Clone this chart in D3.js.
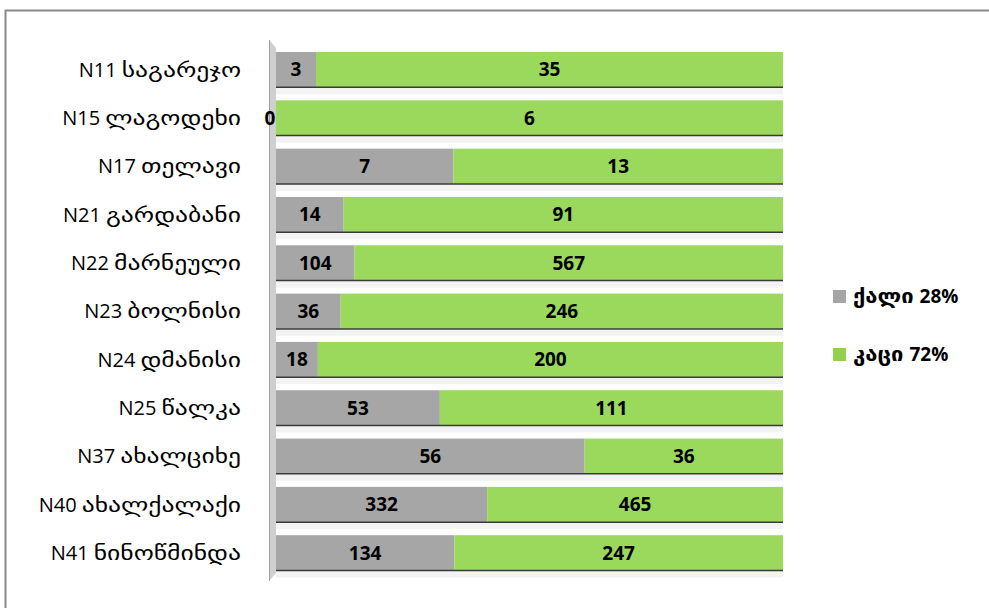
<!DOCTYPE html>
<html><head><meta charset="utf-8">
<script src="https://cdn.jsdelivr.net/npm/d3@7"></script>
<style>body{margin:0;background:#fff}svg{display:block}</style>
</head><body>
<script>
const categories = ["N11 საგარეჯო","N15 ლაგოდეხი","N17 თელავი","N21 გარდაბანი","N22 მარნეული","N23 ბოლნისი","N24 დმანისი","N25 წალკა","N37 ახალციხე","N40 ახალქალაქი","N41 ნინოწმინდა"];
const women = [3,0,7,14,104,36,18,53,56,332,134];
const men = [35,6,13,91,567,246,200,111,36,465,247];
const legendLabels = ["ქალი 28%","კაცი 72%"];
const colors = ["#a6a6a6","#9ad95c"];
const legendColors = ["#a5a5a5","#92d050"];

const W=989,H=608;
const svg=d3.select("body").append("svg").attr("width",W).attr("height",H);
svg.append("rect").attr("width",W).attr("height",H).attr("fill","#fff");
svg.append("path").attr("d",`M5.5,${H} L5.5,10.5 L${W},10.5`).attr("fill","none").attr("stroke","#8a8a8a").attr("stroke-width",2);

const x=d3.scaleLinear().domain([0,1]).range([276,783]);
const y=d3.scaleBand().domain(categories).range([45.5,577]).paddingInner(0.27).paddingOuter(0.135);

const data=categories.map((c,i)=>({c,w:women[i],m:men[i],t:women[i]+men[i]}));

const g=svg.append("g");
g.append("path").attr("d",`M269,40 L276,48 L276,${y.range()[1]-4} L269,${y.range()[1]+4} Z`).attr("fill","#cfcfcf");
g.append("line").attr("x1",269.5).attr("x2",269.5).attr("y1",40).attr("y2",y.range()[1]+4).attr("stroke","#a0a0a0");

const rows=g.selectAll("g.row").data(data).join("g").attr("class","row");
rows.append("rect").attr("x",x(0)).attr("y",d=>y(d.c)+y.bandwidth()).attr("width",x(1)-x(0)).attr("height",7).attr("fill","#f3f3f3");
rows.append("rect").attr("x",x(0)).attr("y",d=>y(d.c)).attr("height",y.bandwidth())
  .attr("width",d=>x(d.w/d.t)-x(0)).attr("fill",colors[0]);
rows.append("rect").attr("x",d=>x(d.w/d.t)).attr("y",d=>y(d.c)).attr("height",y.bandwidth())
  .attr("width",d=>x(1)-x(d.w/d.t)).attr("fill",colors[1]);
rows.append("line").attr("x1",x(0)).attr("x2",x(1)).attr("y1",d=>y(d.c)+y.bandwidth()).attr("y2",d=>y(d.c)+y.bandwidth())
  .attr("stroke","#3a3a3a").attr("stroke-width",1.5);

const lf="'Open Sans','DejaVu Sans',sans-serif";
rows.append("text").attr("x",d=>(x(0)+x(d.w/d.t))/2 - (d.w===0?6:0)).attr("y",d=>y(d.c)+y.bandwidth()/2)
  .attr("dy","0.36em").attr("text-anchor","middle").attr("font-family",lf).attr("font-weight","bold").attr("font-size",19).attr("fill","#000")
  .text(d=>d.w);
rows.append("text").attr("x",d=>(x(d.w/d.t)+x(1))/2).attr("y",d=>y(d.c)+y.bandwidth()/2)
  .attr("dy","0.36em").attr("text-anchor","middle").attr("font-family",lf).attr("font-weight","bold").attr("font-size",19).attr("fill","#000")
  .text(d=>d.m);

// Georgian glyphs in reference are wider (Sylfaen-like): widen the Georgian part
const geoStretch=1.28;
function mixedText(sel, xEnd, yc, str, size, weight){
  const idx=str.indexOf(" ");
  const latin=str.slice(0,idx), geo=str.slice(idx+1);
  const isNumFirst=/^N/.test(latin);
  const first=isNumFirst?latin:geo, second=isNumFirst?geo:latin;
  return {first,second};
}
// category axis via d3.axisLeft, then restyle labels
const axis=d3.axisLeft(y).tickSize(0).tickPadding(0);
const ax=svg.append("g").attr("transform","translate(241,0)").call(axis);
ax.select(".domain").remove();
ax.selectAll(".tick text").each(function(c){
  const t=d3.select(this);
  t.text(null).attr("text-anchor","end").attr("dy","0.36em").attr("font-size",20).attr("fill","#000");
  const idx=c.indexOf(" ");
  const latin=c.slice(0,idx), geo=c.slice(idx+1);
  const p=t.node().parentNode;
  // georgian part
  const gt=d3.select(p).append("text").attr("x",0).attr("dy","0.36em").attr("text-anchor","end")
    .attr("font-family","'DejaVu Sans',sans-serif").attr("font-size",20).attr("fill","#000").text(geo);
  const wGeo=gt.node().getComputedTextLength()*geoStretch;
  gt.attr("textLength",wGeo).attr("lengthAdjust","spacingAndGlyphs");
  t.attr("x",-wGeo-5).attr("font-family","'Open Sans',sans-serif").text(latin);
});

// legend
const leg=svg.append("g");
legendLabels.forEach((l,i)=>{
  const yy=[296,354][i];
  leg.append("rect").attr("x",833).attr("y",yy-6).attr("width",13).attr("height",13).attr("fill",legendColors[i]);
  const [geo,pct]=l.split(" ");
  const gt=leg.append("text").attr("x",853).attr("y",yy).attr("dy","0.36em").attr("font-family","'DejaVu Sans',sans-serif").attr("font-weight","bold").attr("font-size",20).attr("fill","#000").text(geo);
  const wg=gt.node().getComputedTextLength()*1.1;
  gt.attr("textLength",wg).attr("lengthAdjust","spacingAndGlyphs");
  leg.append("text").attr("x",853+wg+6).attr("y",yy).attr("dy","0.36em").attr("font-family","'Open Sans',sans-serif").attr("font-weight","bold").attr("font-size",19).attr("fill","#000").text(pct);
});
</script>
</body></html>
